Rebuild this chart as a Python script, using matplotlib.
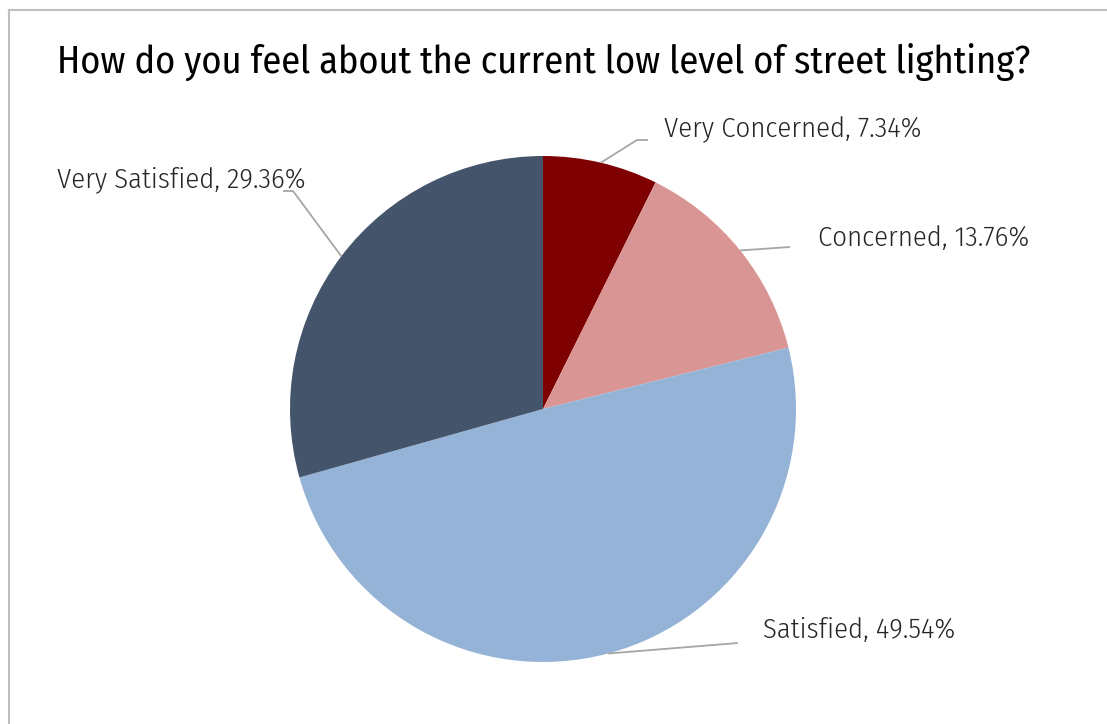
import matplotlib
matplotlib.use("Agg")
import matplotlib.pyplot as plt
import numpy as np
import glob
from matplotlib import font_manager

categories = ["Very Concerned", "Concerned", "Satisfied", "Very Satisfied"]
values = [7.34, 13.76, 49.54, 29.36]
colors = ["#7F0000", "#D99594", "#95B3D7", "#44546A"]
title = "How do you feel about the current low level of street lighting?"


def find_font(names):
    for n in names:
        hits = glob.glob(f"/usr/share/fonts/**/{n}", recursive=True)
        if hits:
            font_manager.fontManager.addfont(hits[0])
            return font_manager.FontProperties(fname=hits[0])
    return font_manager.FontProperties(family="DejaVu Sans")


fp_title = find_font(["FiraSansCondensed-Regular.ttf", "RobotoCondensed-Regular.ttf"])
fp_label = find_font(["FiraSansCondensed-Light.ttf", "FiraSansCondensed-Regular.ttf",
                      "RobotoCondensed-Light.ttf"])

W, H = 1107, 724
fig = plt.figure(figsize=(W / 100, H / 100), dpi=100)
ax = fig.add_axes([0, 0, 1, 1])

cx, cy, R = 543, 409, 253  # pie centre and radius in pixels


def px(x, y):
    return ((x - cx) / R, (cy - y) / R)


wedges, _ = ax.pie(values, colors=colors, startangle=90, counterclock=False,
                   radius=1, center=(0, 0), wedgeprops=dict(linewidth=0))
ax.set_xlim(-cx / R, (W - cx) / R)
ax.set_ylim(-(H - cy) / R, cy / R)
ax.set_aspect("auto")
ax.axis("off")

layout = [
    dict(pts=[(637, 140), (648, 140)], text=(664, 130)),
    dict(pts=[(790, 247)], text=(818, 238)),
    dict(pts=[(738, 643)], text=(763, 630)),
    dict(pts=[(293, 191), (283, 191)], text=(57, 180)),
]

renderer = fig.canvas.get_renderer()


def fit(t, target):
    bb = t.get_window_extent(renderer)
    t.set_fontsize(t.get_fontsize() * target / bb.width)


labels = []
for w, cat, val, lay in zip(wedges, categories, values, layout):
    ang = np.deg2rad((w.theta1 + w.theta2) / 2)
    sx, sy = np.cos(ang), np.sin(ang)
    xs = [sx] + [px(*p)[0] for p in lay["pts"]]
    ys = [sy] + [px(*p)[1] for p in lay["pts"]]
    ax.plot(xs, ys, color="#A6A6A6", lw=1.3, solid_capstyle="butt")
    tx, ty = px(*lay["text"])
    labels.append(ax.text(tx, ty, f"{cat}, {val:.2f}%", ha="left", va="center",
                          fontproperties=fp_label, fontsize=20, color="#262626"))
fit(labels[3], 248)
for t in labels[:3]:
    t.set_fontsize(labels[3].get_fontsize())

tt = fig.text(57 / W, 1 - 62 / H, title, ha="left", va="center",
              fontproperties=fp_title, fontsize=28, color="black")
fit(tt, 973)

# chart frame: left and top edges only (right/bottom fall outside the crop)
ax.add_line(plt.Line2D([9 / W, 9 / W], [0, 1 - 10 / H], transform=fig.transFigure,
                       color="#BFBFBF", lw=1.5, clip_on=False))
ax.add_line(plt.Line2D([9 / W, 1.0], [1 - 10 / H, 1 - 10 / H], transform=fig.transFigure,
                       color="#BFBFBF", lw=1.5, clip_on=False))

fig.savefig("out.png", dpi=100, facecolor="white", edgecolor="none")
